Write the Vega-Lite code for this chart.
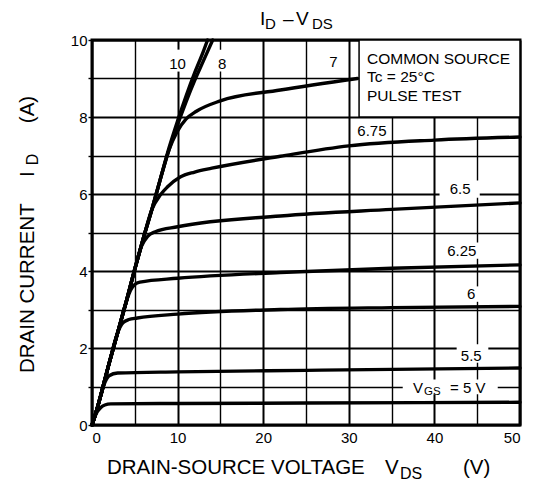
{
  "$schema": "https://vega.github.io/schema/vega-lite/v6.json",
  "autosize": "none",
  "width": 428,
  "height": 385,
  "padding": {"left": 92, "top": 40, "right": 14, "bottom": 76},
  "background": "white",
  "config": {
    "view": {"stroke": "black", "strokeWidth": 3},
    "font": "Liberation Sans",
    "axis": {"labelFont": "Liberation Sans", "labelColor": "black", "labelFontSize": 15, "domain": false, "gridColor": "black", "gridOpacity": 1}
  },
  "datasets": {
    "curves": [
      {"g": "5", "x": 0, "y": 0}, {"g": "5", "x": 0.5, "y": 0.3}, {"g": "5", "x": 1, "y": 0.45}, {"g": "5", "x": 1.5, "y": 0.52}, {"g": "5", "x": 2.2, "y": 0.55}, {"g": "5", "x": 10, "y": 0.56}, {"g": "5", "x": 25, "y": 0.57}, {"g": "5", "x": 50, "y": 0.59},
      {"g": "5.5", "x": 0, "y": 0}, {"g": "5.5", "x": 0.5, "y": 0.35}, {"g": "5.5", "x": 1, "y": 0.75}, {"g": "5.5", "x": 1.5, "y": 1.1}, {"g": "5.5", "x": 2, "y": 1.28}, {"g": "5.5", "x": 3, "y": 1.35}, {"g": "5.5", "x": 10, "y": 1.38}, {"g": "5.5", "x": 25, "y": 1.42}, {"g": "5.5", "x": 50, "y": 1.48},
      {"g": "6", "x": 0, "y": 0}, {"g": "6", "x": 0.5, "y": 0.35}, {"g": "6", "x": 1, "y": 0.75}, {"g": "6", "x": 2, "y": 1.6}, {"g": "6", "x": 3, "y": 2.4}, {"g": "6", "x": 3.6, "y": 2.65}, {"g": "6", "x": 4.3, "y": 2.74}, {"g": "6", "x": 5.3, "y": 2.78}, {"g": "6", "x": 10, "y": 2.88}, {"g": "6", "x": 22, "y": 3.0}, {"g": "6", "x": 35, "y": 3.05}, {"g": "6", "x": 50, "y": 3.08},
      {"g": "6.25", "x": 0, "y": 0}, {"g": "6.25", "x": 0.5, "y": 0.35}, {"g": "6.25", "x": 1, "y": 0.75}, {"g": "6.25", "x": 2, "y": 1.6}, {"g": "6.25", "x": 3, "y": 2.4}, {"g": "6.25", "x": 4, "y": 3.2}, {"g": "6.25", "x": 4.5, "y": 3.5}, {"g": "6.25", "x": 5, "y": 3.65}, {"g": "6.25", "x": 5.6, "y": 3.71}, {"g": "6.25", "x": 10, "y": 3.81}, {"g": "6.25", "x": 22, "y": 3.96}, {"g": "6.25", "x": 35, "y": 4.07}, {"g": "6.25", "x": 50, "y": 4.16},
      {"g": "6.5", "x": 0, "y": 0}, {"g": "6.5", "x": 0.5, "y": 0.35}, {"g": "6.5", "x": 1, "y": 0.75}, {"g": "6.5", "x": 2, "y": 1.6}, {"g": "6.5", "x": 3, "y": 2.4}, {"g": "6.5", "x": 4, "y": 3.2}, {"g": "6.5", "x": 5, "y": 4.05}, {"g": "6.5", "x": 5.8, "y": 4.65}, {"g": "6.5", "x": 6.5, "y": 4.9}, {"g": "6.5", "x": 7.4, "y": 5.02}, {"g": "6.5", "x": 10, "y": 5.15}, {"g": "6.5", "x": 22, "y": 5.43}, {"g": "6.5", "x": 35, "y": 5.6}, {"g": "6.5", "x": 50, "y": 5.77},
      {"g": "6.75", "x": 0, "y": 0}, {"g": "6.75", "x": 0.5, "y": 0.35}, {"g": "6.75", "x": 1, "y": 0.75}, {"g": "6.75", "x": 2, "y": 1.6}, {"g": "6.75", "x": 3, "y": 2.4}, {"g": "6.75", "x": 4, "y": 3.2}, {"g": "6.75", "x": 5, "y": 4.05}, {"g": "6.75", "x": 6, "y": 4.85}, {"g": "6.75", "x": 7, "y": 5.6}, {"g": "6.75", "x": 8, "y": 5.98}, {"g": "6.75", "x": 8.8, "y": 6.18}, {"g": "6.75", "x": 10.3, "y": 6.44}, {"g": "6.75", "x": 12, "y": 6.57}, {"g": "6.75", "x": 14, "y": 6.67}, {"g": "6.75", "x": 22, "y": 6.98}, {"g": "6.75", "x": 30, "y": 7.25}, {"g": "6.75", "x": 40, "y": 7.4}, {"g": "6.75", "x": 50, "y": 7.48},
      {"g": "7", "x": 0, "y": 0}, {"g": "7", "x": 0.5, "y": 0.35}, {"g": "7", "x": 1, "y": 0.75}, {"g": "7", "x": 2, "y": 1.6}, {"g": "7", "x": 3, "y": 2.4}, {"g": "7", "x": 4, "y": 3.2}, {"g": "7", "x": 5, "y": 4.05}, {"g": "7", "x": 6, "y": 4.85}, {"g": "7", "x": 7, "y": 5.6}, {"g": "7", "x": 8, "y": 6.4}, {"g": "7", "x": 9, "y": 7.15}, {"g": "7", "x": 9.9, "y": 7.6}, {"g": "7", "x": 11, "y": 7.95}, {"g": "7", "x": 12.2, "y": 8.15}, {"g": "7", "x": 15, "y": 8.42}, {"g": "7", "x": 22, "y": 8.7}, {"g": "7", "x": 31, "y": 9.0},
      {"g": "8", "x": 0, "y": 0}, {"g": "8", "x": 0.5, "y": 0.35}, {"g": "8", "x": 1, "y": 0.75}, {"g": "8", "x": 2, "y": 1.6}, {"g": "8", "x": 3, "y": 2.4}, {"g": "8", "x": 4, "y": 3.2}, {"g": "8", "x": 5, "y": 4.05}, {"g": "8", "x": 6, "y": 4.85}, {"g": "8", "x": 7, "y": 5.6}, {"g": "8", "x": 8, "y": 6.4}, {"g": "8", "x": 9, "y": 7.15}, {"g": "8", "x": 10, "y": 7.8}, {"g": "8", "x": 11, "y": 8.4}, {"g": "8", "x": 12, "y": 8.95}, {"g": "8", "x": 13, "y": 9.45}, {"g": "8", "x": 14.1, "y": 10},
      {"g": "10", "x": 0, "y": 0}, {"g": "10", "x": 0.5, "y": 0.35}, {"g": "10", "x": 1, "y": 0.75}, {"g": "10", "x": 2, "y": 1.6}, {"g": "10", "x": 3, "y": 2.4}, {"g": "10", "x": 4, "y": 3.2}, {"g": "10", "x": 5, "y": 4.05}, {"g": "10", "x": 6, "y": 4.85}, {"g": "10", "x": 7, "y": 5.6}, {"g": "10", "x": 8, "y": 6.4}, {"g": "10", "x": 9, "y": 7.2}, {"g": "10", "x": 10, "y": 7.9}, {"g": "10", "x": 11, "y": 8.55}, {"g": "10", "x": 12, "y": 9.15}, {"g": "10", "x": 13, "y": 9.7}, {"g": "10", "x": 13.5, "y": 10}
    ],
    "bgs": [
      {"x": 9.1, "x2": 11.0, "y": 9.18, "y2": 9.75},
      {"x": 14.4, "x2": 16.1, "y": 9.18, "y2": 9.75},
      {"x": 27.3, "x2": 29.1, "y": 9.2, "y2": 9.75},
      {"x": 31.3, "x2": 34.3, "y": 7.45, "y2": 7.9},
      {"x": 40.6, "x2": 45.3, "y": 5.9, "y2": 6.35},
      {"x": 41.0, "x2": 45.4, "y": 4.32, "y2": 4.74},
      {"x": 43.4, "x2": 45.6, "y": 3.2, "y2": 3.6},
      {"x": 42.6, "x2": 46.3, "y": 1.62, "y2": 2.1},
      {"x": 36.3, "x2": 47.4, "y": 0.8, "y2": 1.18}
    ],
    "box": [{"x": 31.2, "x2": 50, "y": 8, "y2": 10}],
    "texts": [
      {"g": "lab", "x": 10.0, "y": 9.38, "t": "10"},
      {"g": "lab", "x": 15.2, "y": 9.38, "t": "8"},
      {"g": "lab", "x": 28.2, "y": 9.42, "t": "7"},
      {"g": "lab", "x": 32.7, "y": 7.64, "t": "6.75"},
      {"g": "lab", "x": 43.0, "y": 6.13, "t": "6.5"},
      {"g": "lab", "x": 43.2, "y": 4.52, "t": "6.25"},
      {"g": "lab", "x": 44.3, "y": 3.4, "t": "6"},
      {"g": "lab", "x": 44.3, "y": 1.78, "t": "5.5"},
      {"g": "main", "x": 37.5, "y": 0.961, "t": "V"},
      {"g": "sub", "x": 38.79, "y": 0.857, "t": "GS"},
      {"g": "main", "x": 41.82, "y": 0.961, "t": "= 5 V"},
      {"g": "box", "x": 32.13, "y": 9.51, "t": "COMMON SOURCE"},
      {"g": "box", "x": 32.13, "y": 9.04, "t": "Tc = 25°C"},
      {"g": "box", "x": 32.13, "y": 8.55, "t": "PULSE TEST"},
      {"g": "tmain", "x": 19.63, "y": 10.55, "t": "I"},
      {"g": "tsub", "x": 20.21, "y": 10.42, "t": "D"},
      {"g": "tmain", "x": 22.31, "y": 10.55, "t": "–"},
      {"g": "tmain", "x": 23.83, "y": 10.55, "t": "V"},
      {"g": "tsub", "x": 25.7, "y": 10.42, "t": "DS"},
      {"g": "xmain", "x": 1.75, "y": -1.117, "t": "DRAIN-SOURCE VOLTAGE"},
      {"g": "xmain", "x": 34.23, "y": -1.117, "t": "V"},
      {"g": "xsub", "x": 35.98, "y": -1.27, "t": "DS"},
      {"g": "xmain", "x": 43.34, "y": -1.117, "t": "(V)"},
      {"g": "ymain", "x": -7.48, "y": 1.35, "t": "DRAIN CURRENT"},
      {"g": "ymain", "x": -7.48, "y": 6.44, "t": "I"},
      {"g": "ysub", "x": -6.89, "y": 6.75, "t": "D"},
      {"g": "ymain", "x": -7.48, "y": 7.84, "t": "(A)"}
    ]
  },
  "encoding": {
    "x": {"field": "x", "type": "quantitative", "scale": {"domain": [0, 50], "nice": false, "zero": false},
      "axis": {"title": null, "values": [0, 5, 10, 15, 20, 25, 30, 35, 40, 45, 50], "labelExpr": "datum.value % 10 == 0 ? datum.label : ''", "ticks": false, "labelPadding": 5, "grid": true,
        "gridWidth": {"condition": {"test": "datum.value % 10 == 0", "value": 2}, "value": 1.4}}},
    "y": {"field": "y", "type": "quantitative", "scale": {"domain": [0, 10], "nice": false, "zero": false},
      "axis": {"title": null, "values": [0, 1, 2, 3, 4, 5, 6, 7, 8, 9, 10], "labelExpr": "datum.value % 2 == 0 ? datum.label : ''", "ticks": true, "tickSize": 4, "tickColor": "black", "tickWidth": 1.4, "labelPadding": 1, "grid": true,
        "gridWidth": {"condition": {"test": "datum.value % 2 == 0", "value": 2}, "value": 1.4}}}
  },
  "layer": [
    {"data": {"name": "bgs"}, "mark": {"type": "rect", "fill": "white", "stroke": null}, "encoding": {"x2": {"field": "x2"}, "y2": {"field": "y2"}}},
    {"data": {"name": "box"}, "mark": {"type": "rect", "fill": "white", "stroke": "black", "strokeWidth": 1.5}, "encoding": {"x2": {"field": "x2"}, "y2": {"field": "y2"}}},
    {"data": {"name": "curves"}, "mark": {"type": "line", "color": "black", "strokeWidth": 3.4, "interpolate": "monotone", "strokeJoin": "round", "strokeCap": "round"}, "encoding": {"detail": {"field": "g", "type": "nominal"}}},
    {"data": {"name": "texts"}, "transform": [{"filter": "datum.g == 'lab'"}], "mark": {"type": "text", "fontSize": 15, "align": "center", "baseline": "middle", "color": "black"}, "encoding": {"text": {"field": "t"}}},
    {"data": {"name": "texts"}, "transform": [{"filter": "datum.g == 'main'"}], "mark": {"type": "text", "fontSize": 15, "align": "left", "baseline": "middle", "color": "black"}, "encoding": {"text": {"field": "t"}}},
    {"data": {"name": "texts"}, "transform": [{"filter": "datum.g == 'sub'"}], "mark": {"type": "text", "fontSize": 11.5, "align": "left", "baseline": "middle", "color": "black"}, "encoding": {"text": {"field": "t"}}},
    {"data": {"name": "texts"}, "transform": [{"filter": "datum.g == 'box'"}], "mark": {"type": "text", "fontSize": 15.5, "align": "left", "baseline": "middle", "color": "black"}, "encoding": {"text": {"field": "t"}}},
    {"data": {"name": "texts"}, "transform": [{"filter": "datum.g == 'tmain'"}], "mark": {"type": "text", "fontSize": 19, "align": "left", "baseline": "middle", "color": "black"}, "encoding": {"text": {"field": "t"}}},
    {"data": {"name": "texts"}, "transform": [{"filter": "datum.g == 'tsub'"}], "mark": {"type": "text", "fontSize": 15, "align": "left", "baseline": "middle", "color": "black"}, "encoding": {"text": {"field": "t"}}},
    {"data": {"name": "texts"}, "transform": [{"filter": "datum.g == 'xmain'"}], "mark": {"type": "text", "fontSize": 20.5, "align": "left", "baseline": "middle", "color": "black"}, "encoding": {"text": {"field": "t"}}},
    {"data": {"name": "texts"}, "transform": [{"filter": "datum.g == 'xsub'"}], "mark": {"type": "text", "fontSize": 16, "align": "left", "baseline": "middle", "color": "black"}, "encoding": {"text": {"field": "t"}}},
    {"data": {"name": "texts"}, "transform": [{"filter": "datum.g == 'ymain'"}], "mark": {"type": "text", "fontSize": 20.5, "align": "left", "baseline": "middle", "angle": 270, "color": "black"}, "encoding": {"text": {"field": "t"}}},
    {"data": {"name": "texts"}, "transform": [{"filter": "datum.g == 'ysub'"}], "mark": {"type": "text", "fontSize": 16, "align": "left", "baseline": "middle", "angle": 270, "color": "black"}, "encoding": {"text": {"field": "t"}}}
  ]
}
